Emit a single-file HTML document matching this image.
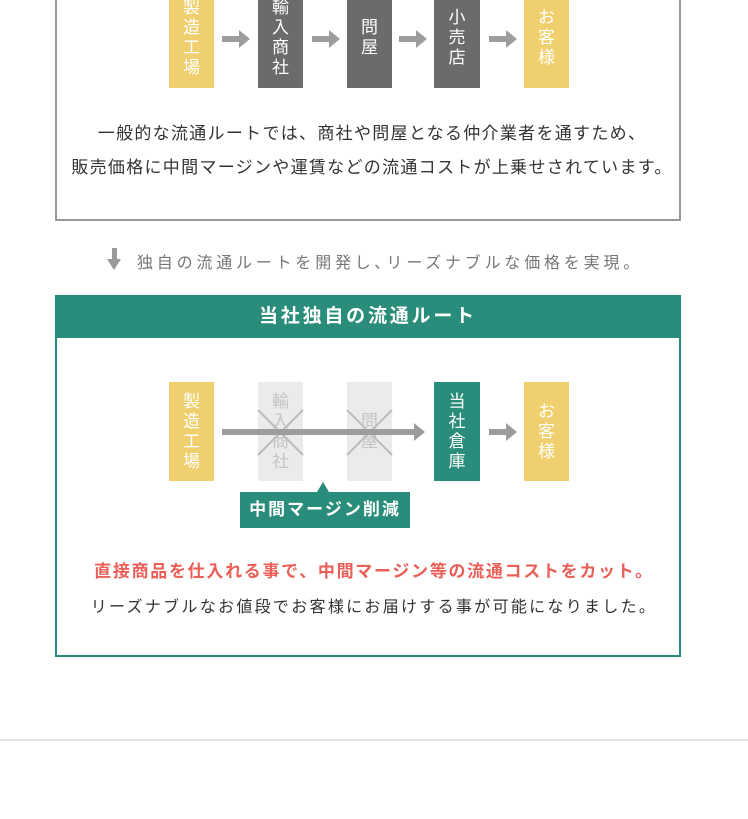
<!DOCTYPE html>
<html><head><meta charset="utf-8"><style>
body{margin:0;width:748px;height:819px;background:#fff;position:relative;overflow:hidden;font-family:"Liberation Sans","Noto Sans CJK JP",sans-serif;}
.a{position:absolute}
.box{position:absolute;width:45px;color:#fff;font-size:17px;line-height:20px;text-align:center;display:flex;flex-direction:column;justify-content:center;align-items:center}
.y{background:#f0cf6e}.g{background:#6b6b6b}.t{background:#2a8c7a}.f{background:#ebebeb;color:#c4c4c4}
.arr{position:absolute;height:6px;background:#9d9d9d}
.arr:after{content:"";position:absolute;right:-10px;top:-6px;border-left:11px solid #9d9d9d;border-top:9px solid transparent;border-bottom:9px solid transparent}
.txt{position:absolute;left:0;width:748px;text-align:center;font-size:17px;color:#333;letter-spacing:1.3px;white-space:nowrap}
</style></head><body>
<div class="a" style="left:55px;top:-10px;width:622px;height:227px;border:2px solid #999"></div>
<div class="box y" style="left:169px;top:-12px;height:100px">製<br>造<br>工<br>場</div>
<div class="box g" style="left:258px;top:-12px;height:100px">輸<br>入<br>商<br>社</div>
<div class="box g" style="left:347px;top:-12px;height:100px">問<br>屋</div>
<div class="box g" style="left:434px;top:-12px;height:100px;width:46px">小<br>売<br>店</div>
<div class="box y" style="left:524px;top:-12px;height:100px">お<br>客<br>様</div>
<div class="arr" style="left:222px;top:36px;width:18px"></div>
<div class="arr" style="left:312px;top:36px;width:18px"></div>
<div class="arr" style="left:399px;top:36px;width:18px"></div>
<div class="arr" style="left:489px;top:36px;width:18px"></div>
<div class="txt" style="top:119px;left:-2px">一般的な流通ルートでは、商社や問屋となる仲介業者を通すため、</div>
<div class="txt" style="top:153px;left:-2px">販売価格に中間マージンや運賃などの流通コストが上乗せされています。</div>
<div class="a" style="left:112px;top:248px;width:5px;height:12px;background:#999"></div>
<div class="a" style="left:107px;top:259px;border-top:11px solid #999;border-left:7.5px solid transparent;border-right:7.5px solid transparent"></div>
<div class="a" style="left:137px;top:249px;font-size:16px;color:#777;letter-spacing:3.8px;white-space:nowrap">独自の流通ルートを開発し､リーズナブルな価格を実現。</div>
<div class="a" style="left:55px;top:295px;width:622px;height:360px;border:2px solid #2a8c7a;border-top:none"></div>
<div class="a" style="left:55px;top:295px;width:626px;height:43px;background:#2a8c7a;color:#fff;font-size:19px;line-height:43px;text-align:center;font-weight:bold;letter-spacing:2.8px">当社独自の流通ルート</div>
<div class="box y" style="left:169px;top:382px;height:99px">製<br>造<br>工<br>場</div>
<div class="box f" style="left:258px;top:382px;height:99px">輸<br>入<br>商<br>社</div>
<div class="box f" style="left:347px;top:382px;height:99px">問<br>屋</div>
<svg class="a" style="left:0;top:0" width="748" height="819"><g stroke="#bcbcbc" stroke-width="2"><line x1="258" y1="410" x2="303" y2="455"/><line x1="303" y1="410" x2="258" y2="455"/><line x1="347" y1="410" x2="392" y2="455"/><line x1="392" y1="410" x2="347" y2="455"/></g></svg>
<div class="box t" style="left:434px;top:382px;height:99px;width:46px">当<br>社<br>倉<br>庫</div>
<div class="box y" style="left:524px;top:382px;height:99px">お<br>客<br>様</div>
<div class="arr" style="left:222px;top:429px;width:193px"></div>
<div class="arr" style="left:489px;top:429px;width:18px"></div>
<div class="a" style="left:317px;top:482px;border-bottom:10px solid #2a8c7a;border-left:6px solid transparent;border-right:6px solid transparent"></div>
<div class="a" style="left:240px;top:492px;width:170px;height:36px;background:#2a8c7a;color:#fff;font-size:17px;font-weight:bold;line-height:36px;text-align:center;letter-spacing:2px">中間マージン削減</div>
<div class="txt" style="top:557px;color:#ea5f57;font-weight:bold;letter-spacing:1.7px">直接商品を仕入れる事で、中間マージン等の流通コストをカット。</div>
<div class="txt" style="top:593px;font-size:16px;letter-spacing:2.3px">リーズナブルなお値段でお客様にお届けする事が可能になりました。</div>
<div class="a" style="left:0;top:739px;width:748px;height:2px;background:#e3e3e3"></div>
</body></html>
